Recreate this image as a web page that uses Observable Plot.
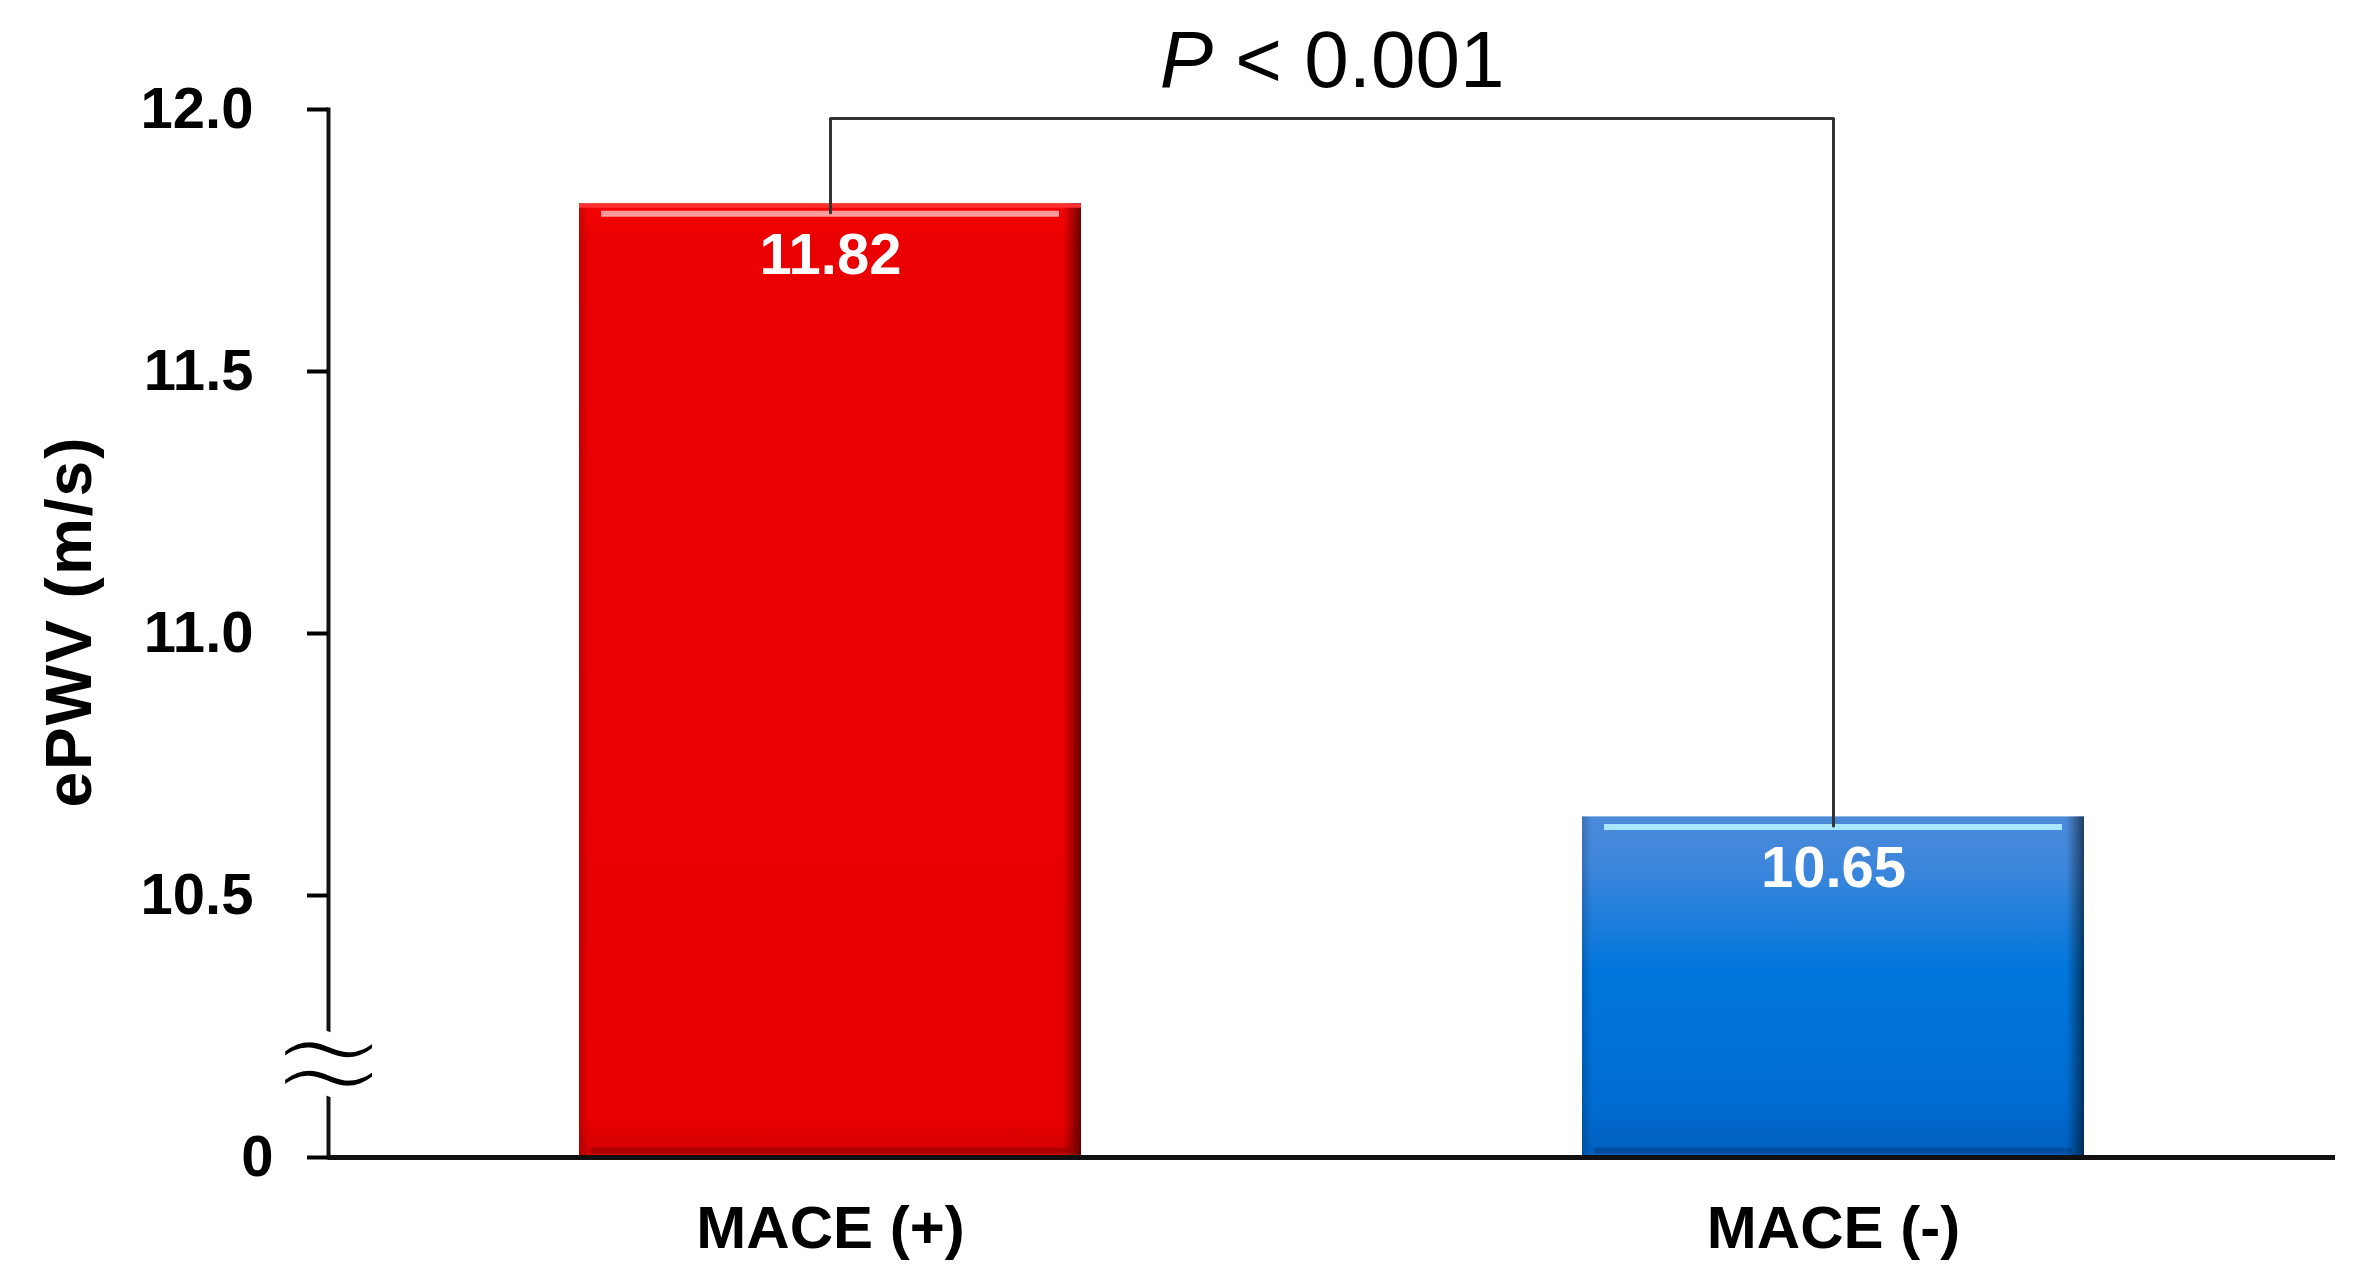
<!DOCTYPE html>
<html>
<head>
<meta charset="utf-8">
<script src="https://cdn.jsdelivr.net/npm/d3@7"></script>
<script src="https://cdn.jsdelivr.net/npm/@observablehq/plot@0.6"></script>
<style>
  body { margin: 0; background: #fff; }
</style>
</head>
<body>
<div id="chart"></div>
<script>
// values
const groups = ["MACE (+)", "MACE (-)"]
const values = [11.82, 10.65]
const yTicks = [10.5, 11.0, 11.5, 12.0]
const zeroTick = [0]
const pLabel = "P < 0.001"
const yLabel = "ePWV (m/s)"
const breakMark = "≈"

// broken axis: everything below yFloor is clamped onto the baseline
const yFloor = 10
const yBreak = 10.18
const yTop = yTicks[yTicks.length - 1]

const rows = groups.map((g, i) => ({group: g, value: values[i]}))
const bracket = [
  {group: groups[0], value: values[0]},
  {group: groups[0], value: yTop},
  {group: groups[1], value: yTop},
  {group: groups[1], value: values[1]}
]

const gradients = () => {
  const defs = d3.create("svg:defs")
  const lin = (id, stops, horiz) => {
    const g = defs.append("linearGradient").attr("id", id)
      .attr("x1", 0).attr("y1", 0).attr("x2", horiz ? 1 : 0).attr("y2", horiz ? 0 : 1)
    stops.forEach(([o, c, a]) => g.append("stop").attr("offset", o).attr("stop-color", c).attr("stop-opacity", a ?? 1))
  }
  lin("redFill", [[0, "#f50505"], [0.04, "#ea0000"], [0.96, "#e80000"], [1, "#d00000"]])
  lin("blueFill", [[0, "#4b8ad9"], [0.15, "#3d86dc"], [0.45, "#0077dc"], [0.85, "#006bd0"], [1, "#005fbe"]])
  lin("edgeShade", [[0, "#000", 0.18], [0.02, "#000", 0], [0.965, "#000", 0], [1, "#000", 0.55]], true)
  return defs.node()
}

const chart = Plot.plot({
  width: 2370,
  height: 1275,
  marginTop: 109,
  marginBottom: 118,
  marginLeft: 328,
  marginRight: 35,
  style: {
    fontFamily: "'Liberation Sans', Arial, sans-serif",
    fontWeight: "bold",
    color: "#000",
    background: "#fff"
  },
  x: {type: "band", domain: groups, paddingInner: 0.5, paddingOuter: 0.25, label: null},
  y: {domain: [yFloor, yTop], clamp: true, label: null},
  color: {type: "ordinal", domain: groups, range: ["url(#redFill)", "url(#blueFill)"]},
  marks: [
    gradients,
    Plot.barY(rows, {x: "group", y: "value", fill: "group"}),
    Plot.barY(rows, {x: "group", y: "value", fill: "url(#edgeShade)"}),
    // top bevel highlight
    Plot.tickY([rows[0]], {x: "group", y: "value", dy: 10, stroke: "#ff9a9a", strokeWidth: 6, insetLeft: 22, insetRight: 22}),
    Plot.tickY([rows[1]], {x: "group", y: "value", dy: 10, stroke: "#a9e6ff", strokeWidth: 6, insetLeft: 22, insetRight: 22}),
    Plot.tickY([rows[0]], {x: "group", y: "value", dy: 2, stroke: "#ff3030", strokeWidth: 4}),
    // bottom bevel
    Plot.tickY(rows, {x: "group", y: 0, dy: -7, stroke: "#000", strokeOpacity: 0.18, strokeWidth: 6, insetLeft: 12, insetRight: 12}),
    Plot.text(rows, {
      x: "group", y: "value", text: d => d.value.toFixed(2),
      fill: "white", fontSize: 58, fontWeight: "bold", lineAnchor: "top", dy: 29
    }),
    // significance bracket
    Plot.line(bracket, {x: "group", y: "value", dy: 9, stroke: "#333", strokeWidth: 3}),
    Plot.text([pLabel], {frameAnchor: "top", lineAnchor: "bottom", dy: -23, fontSize: 80, fontWeight: "normal", fill: "#000"}),
    // axes
    Plot.ruleY(zeroTick, {stroke: "#111", strokeWidth: 5}),
    Plot.frame({anchor: "left", stroke: "#111", strokeWidth: 4}),
    Plot.axisY({ticks: yTicks, tickFormat: d3.format(".1f"), tickSize: 21, tickPadding: 54, fontSize: 58, strokeWidth: 4, label: null}),
    Plot.axisY({ticks: zeroTick, tickFormat: d => String(d), tickSize: 21, tickPadding: 34, fontSize: 58, strokeWidth: 4, label: null}),
    // axis break: white halo to cut the axis line, then a thinned glyph on top
    Plot.text([breakMark], {
      frameAnchor: "left", y: yBreak, textAnchor: "middle", lineAnchor: "middle", fontSize: 150,
      fontFamily: "DejaVu Sans", fontWeight: "normal", fill: "white", stroke: "white", strokeWidth: 22
    }),
    Plot.text([breakMark], {
      frameAnchor: "left", y: yBreak, textAnchor: "middle", lineAnchor: "middle", fontSize: 150,
      fontFamily: "DejaVu Sans", fontWeight: "normal", fill: "#000", stroke: "white", strokeWidth: 7, paintOrder: "normal"
    }),
    Plot.axisX({tickSize: 0, tickPadding: 48, fontSize: 60, label: null}),
    Plot.text([yLabel], {
      frameAnchor: "left", textAnchor: "middle", rotate: -90, dx: -258, dy: -12,
      fontSize: 64, fontWeight: "bold"
    })
  ]
})

d3.select('#chart').append(() => chart)

// italic P in the significance label
d3.select(chart).selectAll("text")
  .filter(function () { return this.textContent === pLabel })
  .each(function () {
    const t = d3.select(this).text(null)
    t.append("tspan").attr("font-style", "italic").text(pLabel.slice(0, 1))
    t.append("tspan").text(pLabel.slice(1))
  })

// the axis title is set a little wider in the original
d3.select(chart).selectAll("text")
  .filter(function () { return this.textContent === yLabel })
  .attr("letter-spacing", "2px")
</script>
</body>
</html>
